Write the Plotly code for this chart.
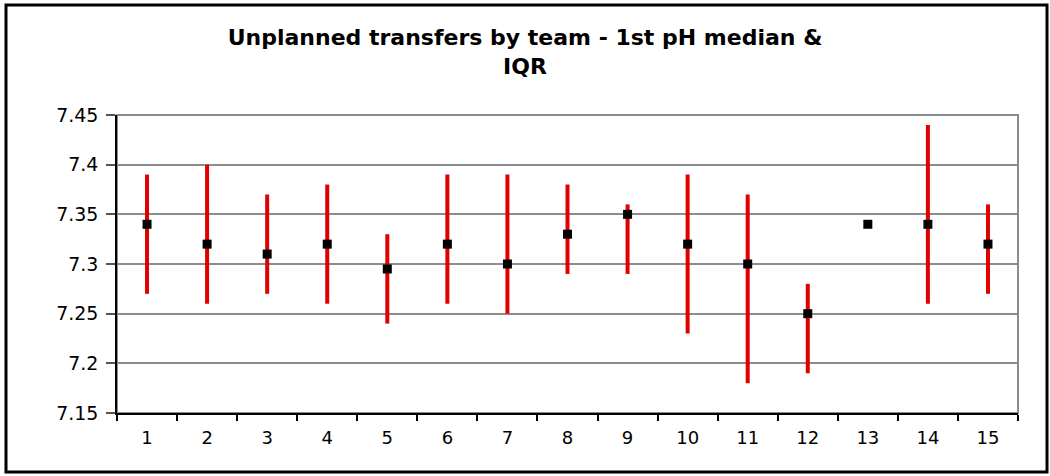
import plotly.graph_objects as go

# Team numbers and first pH summary statistics (median with interquartile range)
teams = ["1", "2", "3", "4", "5", "6", "7", "8", "9", "10", "11", "12", "13", "14", "15"]
median_ph = [7.34, 7.32, 7.31, 7.32, 7.295, 7.32, 7.30, 7.33, 7.35, 7.32, 7.30, 7.25, 7.34, 7.34, 7.32]
q1_ph = [7.27, 7.26, 7.27, 7.26, 7.24, 7.26, 7.25, 7.29, 7.29, 7.23, 7.18, 7.19, 7.34, 7.26, 7.27]
q3_ph = [7.39, 7.40, 7.37, 7.38, 7.33, 7.39, 7.39, 7.38, 7.36, 7.39, 7.37, 7.28, 7.34, 7.44, 7.36]

y_ticks = [7.15, 7.2, 7.25, 7.3, 7.35, 7.4, 7.45]
y_tick_text = ["7.15", "7.2", "7.25", "7.3", "7.35", "7.4", "7.45"]

err_plus = [hi - m for hi, m in zip(q3_ph, median_ph)]
err_minus = [m - lo for lo, m in zip(q1_ph, median_ph)]

fig = go.Figure()
fig.add_trace(go.Scatter(
    x=teams, y=median_ph, mode="markers",
    marker=dict(symbol="square", size=9, color="black"),
    error_y=dict(type="data", symmetric=False, array=err_plus, arrayminus=err_minus,
                 color="#e00000", thickness=4, width=0),
    showlegend=False,
))

font = "DejaVu Sans, Verdana, sans-serif"
fig.update_layout(
    width=1050, height=476,
    margin=dict(l=117, r=32, t=115, b=63),
    paper_bgcolor="white", plot_bgcolor="white",
    title=dict(text="<b>Unplanned transfers by team - 1st pH median &amp;<br>IQR</b>",
               x=0.5, xanchor="center", y=0.905, yanchor="top",
               font=dict(family=font, size=22, color="black")),
    xaxis=dict(type="category", range=[-0.5, 14.5], tickson="boundaries",
               ticks="outside", ticklen=6, tickcolor="black", tickwidth=1.5,
               ticklabelstandoff=8,
               showline=True, linecolor="black", linewidth=1.5,
               showgrid=False, zeroline=False,
               tickfont=dict(family=font, size=18, color="black")),
    yaxis=dict(range=[7.15, 7.45], tickvals=y_ticks, ticktext=y_tick_text,
               ticks="outside", ticklen=9, tickcolor="#555", tickwidth=1.5,
               ticklabelstandoff=4,
               showline=True, linecolor="black", linewidth=1.5,
               showgrid=True, gridcolor="#8c8c8c", gridwidth=1.5, zeroline=False,
               tickfont=dict(family=font, size=19, color="black")),
    shapes=[
        # plot area frame
        dict(type="rect", xref="paper", yref="paper", x0=0, x1=1, y0=0, y1=1,
             line=dict(color="#8c8c8c", width=2), layer="below"),
        # outer chart border
        dict(type="rect", xref="paper", yref="paper", x0=-0.1232, x1=1.0322,
             y0=-0.198, y1=1.369, line=dict(color="black", width=3)),
    ],
)

fig.write_html("out.html")
